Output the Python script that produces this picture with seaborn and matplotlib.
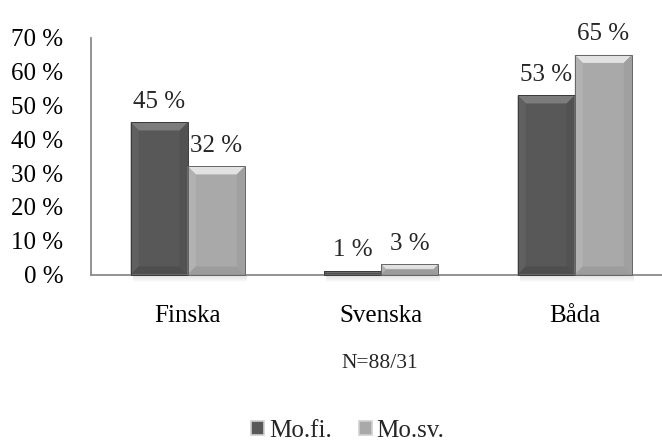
import numpy as np
import pandas as pd
import matplotlib
matplotlib.use("Agg")
import matplotlib.pyplot as plt
import seaborn as sns
from matplotlib.patches import Polygon, Patch
from matplotlib.transforms import IdentityTransform

# ---- data ----
categories = ["Finska", "Svenska", "Båda"]
series_names = ["Mo.fi.", "Mo.sv."]
mo_fi = [45, 1, 53]
mo_sv = [32, 3, 65]
y_ticks = [0, 10, 20, 30, 40, 50, 60, 70]
y_tick_labels = [f"{t} %" for t in y_ticks]
note_text = "N=88/31"

df = pd.DataFrame({
    "Kategori": categories * 2,
    "Grupp": [s for s in series_names for _ in categories],
    "Värde": mo_fi + mo_sv,
})

sns.set_theme(style="white")
plt.rcParams['font.family'] = ['Liberation Serif', 'DejaVu Serif']

W, H = 662, 442
fig = plt.figure(figsize=(W / 100, H / 100), dpi=100)
ax = fig.add_axes([91 / W, (H - 274.5) / H, 580.5 / W, 236.5 / H])

face = {"Mo.fi.": "#585858", "Mo.sv.": "#a9a9a9"}
sns.barplot(data=df, x="Kategori", y="Värde", hue="Grupp", hue_order=series_names,
            order=categories, palette=face, width=0.59, saturation=1,
            linewidth=0, ax=ax, legend=False)

ax.set_xlim(-0.5, 2.5)
ax.set_ylim(0, 70)
ax.set_yticks(y_ticks)
ax.set_yticklabels(y_tick_labels)
ax.set_xlabel("")
ax.set_ylabel("")
ax.tick_params(axis="both", length=0, labelsize=18, colors="black")
ax.tick_params(axis="y", pad=20)
ax.tick_params(axis="x", pad=22)
for s in ["top", "right"]:
    ax.spines[s].set_visible(False)
for s in ["left", "bottom"]:
    ax.spines[s].set_color("#8a8a8a")
    ax.spines[s].set_linewidth(1.3)
ax.grid(False)

values = [mo_fi, mo_sv]
for cont, vals in zip(ax.containers, values):
    ax.bar_label(cont, labels=[f"{v} %" for v in vals], padding=7, fontsize=18)

fig.text(380 / W, 1 - 364 / H, note_text, ha="center", va="center", fontsize=15.5)

handles = [Patch(facecolor=face[s], edgecolor="#d0d0d0", linewidth=1.2) for s in series_names]
fig.legend(handles, series_names, loc="center", bbox_to_anchor=(348 / W, 1 - 431 / H),
           ncol=2, frameon=False, fontsize=18, handlelength=0.5, handleheight=0.5,
           handletextpad=0.2, columnspacing=1.1)

# ---- bevel effect, derived from the drawn bars ----
fig.canvas.draw()
renderer = fig.canvas.get_renderer()
bevel_cols = {
    "Mo.fi.": dict(top="#7c7c7c", left="#606060", right="#525252", bottom="#4e4e4e", edge="#3a3a3a"),
    "Mo.sv.": dict(top="#e2e2e2", left="#b2b2b2", right="#a0a0a0", bottom="#9c9c9c", edge="#666666"),
}
for cont, name in zip(ax.containers, series_names):
    c = bevel_cols[name]
    for p in cont.patches:
        bb = p.get_window_extent(renderer)
        x0, x1, y0, y1 = bb.x0, bb.x1, bb.y0, bb.y1
        w, h = x1 - x0, y1 - y0
        b = min(8.0, 0.45 * h, 0.45 * w)
        polys = [
            ([(x0, y1), (x1, y1), (x1 - b, y1 - b), (x0 + b, y1 - b)], c["top"]),
            ([(x0, y0), (x0, y1), (x0 + b, y1 - b), (x0 + b, y0 + b)], c["left"]),
            ([(x1, y0), (x1, y1), (x1 - b, y1 - b), (x1 - b, y0 + b)], c["right"]),
            ([(x0, y0), (x1, y0), (x1 - b, y0 + b), (x0 + b, y0 + b)], c["bottom"]),
        ]
        for pts, col in polys:
            fig.patches.append(Polygon(pts, closed=True, facecolor=col, edgecolor="none",
                                       transform=IdentityTransform(), zorder=3))
        fig.patches.append(Polygon([(x0, y0), (x0, y1), (x1, y1), (x1, y0)], closed=True,
                                   facecolor="none", edgecolor=c["edge"], linewidth=0.7,
                                   transform=IdentityTransform(), zorder=4))
        # soft shadow below the base
        for k in range(6):
            fig.patches.append(Polygon([(x0 + 2, y0 - k - 1), (x1 + 2, y0 - k - 1),
                                        (x1 + 2, y0 - k - 2), (x0 + 2, y0 - k - 2)],
                                       closed=True, facecolor="black", alpha=0.10 * (1 - k / 6),
                                       edgecolor="none", transform=IdentityTransform(), zorder=1))

fig.savefig("out.png", dpi=100)
